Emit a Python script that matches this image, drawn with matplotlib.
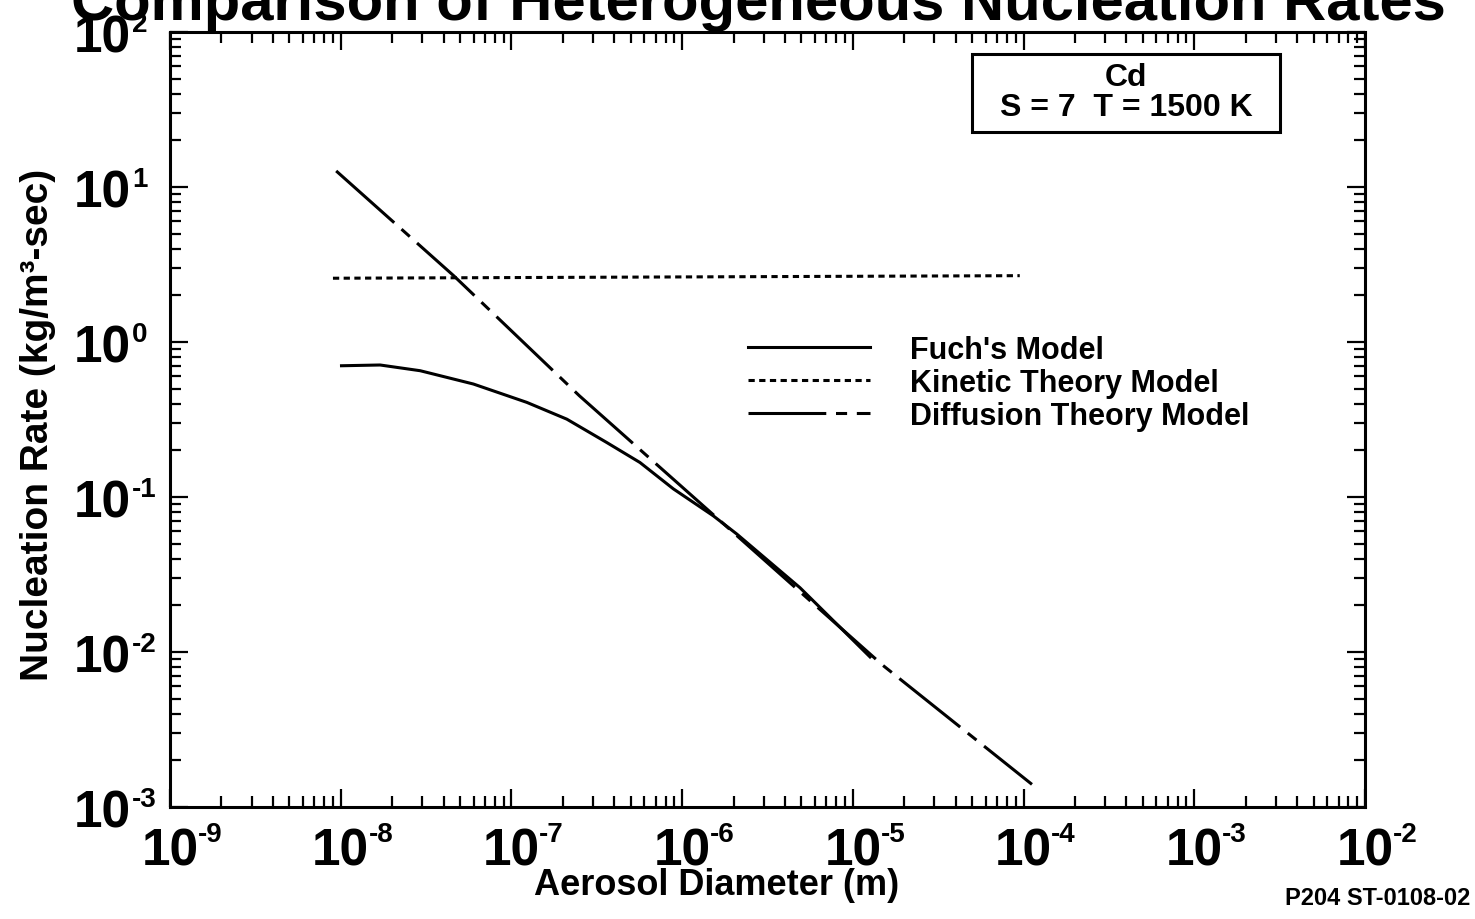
import matplotlib
matplotlib.use("Agg")
import matplotlib.pyplot as plt
from matplotlib.patches import Rectangle
from matplotlib.ticker import FixedLocator, LogLocator, NullFormatter

# Nucleation rate vs. aerosol diameter, Cd at S = 7, T = 1500 K
fuchs_d = [1.01e-8, 1.70e-8, 2.92e-8, 5.98e-8, 1.23e-7, 2.11e-7, 3.61e-7,
           5.66e-7, 8.87e-7, 1.52e-6, 2.09e-6, 4.9e-6, 1.26e-5]
fuchs_rate = [0.703, 0.711, 0.653, 0.536, 0.408, 0.318, 0.225,
              0.167, 0.113, 0.0757, 0.0577, 0.026, 0.0093]

kinetic_d = [9.0e-9, 9.5e-5]
kinetic_rate = [2.58, 2.68]

diffusion_d = [9.4e-9, 4.6e-8, 2.5e-7, 1.5e-5, 1.12e-4]
diffusion_rate = [12.7, 2.67, 0.45, 8.2e-3, 1.4e-3]

x_exponents = [-9, -8, -7, -6, -5, -4, -3, -2]
y_exponents = [-3, -2, -1, 0, 1, 2]

plt.rcParams['font.family'] = ['Liberation Sans', 'DejaVu Sans']
plt.rcParams['font.weight'] = 'bold'
plt.rcParams['lines.scale_dashes'] = False

fig = plt.figure(figsize=(14.75, 9.2), dpi=100)
ax = fig.add_axes([0.1153, 0.1217, 0.8101, 0.8424])

lw = 2.2
ax.plot(fuchs_d, fuchs_rate, color='black', lw=lw, label="Fuch's Model")
ax.plot(kinetic_d, kinetic_rate, color='black', lw=lw,
        linestyle=(0, (4.5, 3.2)), label='Kinetic Theory Model')
ax.plot(diffusion_d, diffusion_rate, color='black', lw=lw,
        linestyle=(0, (56, 7, 8, 7)), label='Diffusion Theory Model')

ax.set_xscale('log')
ax.set_yscale('log')
ax.set_xlim(10.0 ** x_exponents[0], 10.0 ** x_exponents[-1])
ax.set_ylim(10.0 ** y_exponents[0], 10.0 ** y_exponents[-1])

x_ticks = [10.0 ** e for e in x_exponents]
y_ticks = [10.0 ** e for e in y_exponents]
ax.xaxis.set_major_locator(FixedLocator(x_ticks))
ax.yaxis.set_major_locator(FixedLocator(y_ticks))
ax.set_xticklabels(['10'] * len(x_ticks))
ax.set_yticklabels(['10'] * len(y_ticks))
for axis in (ax.xaxis, ax.yaxis):
    axis.set_minor_locator(LogLocator(base=10, subs=range(2, 10), numticks=20))
    axis.set_minor_formatter(NullFormatter())

ax.tick_params(which='both', direction='in', top=True, right=True,
               width=1.6, labelsize=37)
ax.tick_params(which='major', length=13)
ax.tick_params(which='minor', length=8)
ax.tick_params(axis='x', pad=14)
ax.tick_params(axis='y', pad=28)
for spine in ax.spines.values():
    spine.set_linewidth(2.2)

# exponents written beside the "10" tick labels
for e, v in zip(x_exponents, x_ticks):
    ax.annotate(str(e), xy=(v, 0), xycoords=('data', 'axes fraction'),
                xytext=(20, -24.5), textcoords='offset points',
                ha='left', va='baseline', fontsize=20, annotation_clip=False)
for e, v in zip(y_exponents, y_ticks):
    ax.annotate(str(e), xy=(0, v), xycoords=('axes fraction', 'data'),
                xytext=(-27.5, 1), textcoords='offset points',
                ha='left', va='baseline', fontsize=20, annotation_clip=False)

# condition box
ax.add_patch(Rectangle((0.671, 0.871), 0.258, 0.1006, transform=ax.transAxes,
                       fill=False, edgecolor='black', lw=2.2))
ax.text(0.80, 0.942, 'Cd', transform=ax.transAxes, ha='center', va='center',
        fontsize=23)
ax.text(0.80, 0.903, 'S = 7  T = 1500 K', transform=ax.transAxes,
        ha='center', va='center', fontsize=23)

leg = ax.legend(loc='upper left', bbox_to_anchor=(0.471, 0.629),
                frameon=False, fontsize=22, handlelength=4.0,
                handletextpad=1.3, labelspacing=0.1, borderpad=0)

fig.text(717 / 1475, 1 - 895 / 920, 'Aerosol Diameter (m)', ha='center',
         va='baseline', fontsize=26)
fig.text(38 / 1475, 1 - 425 / 920, 'Nucleation Rate (kg/m³-sec)',
         rotation=90, ha='center', va='center', fontsize=28)
fig.text(71 / 1475, 1 - 20 / 920, 'Comparison of Heterogeneous Nucleation Rates',
         ha='left', va='baseline', fontsize=43)
fig.text(1470 / 1475, 1 - 905 / 920, 'P204 ST-0108-02', ha='right',
         va='baseline', fontsize=17)

fig.savefig('out.png', dpi=100)
